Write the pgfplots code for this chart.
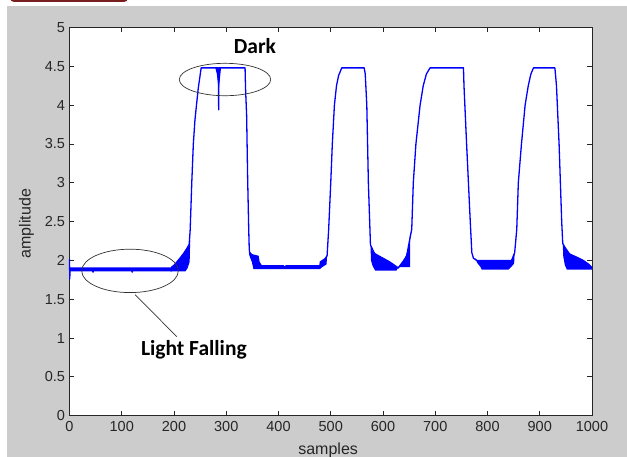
\documentclass[border=0pt]{standalone}
\usepackage{pgfplots}
\pgfplotsset{compat=1.18}
\usepackage{fontspec}
\setmainfont{Liberation Sans}
\newfontfamily\annot{Carlito}
\definecolor{figgrey}{RGB}{204,204,204}
\definecolor{sigblue}{RGB}{0,0,255}
\definecolor{tabred}{RGB}{120,30,30}

\begin{document}
\begin{tikzpicture}
\useasboundingbox (0,0) rectangle (627pt,457pt);
\fill[white] (0,0) rectangle (627pt,457pt);
\fill[figgrey] (7pt,0) rectangle (627pt,451pt);
\fill[tabred, rounded corners=4pt] (10pt,455pt) rectangle (128pt,470pt);

\begin{axis}[
    at={(69.5pt,41.3pt)}, anchor=south west,
    width=522.5pt, height=388.2pt, scale only axis,
    xmin=0, xmax=1000, ymin=0, ymax=5,
    xtick={0,100,...,1000},
    ytick={0,0.5,...,5},
    axis background/.style={fill=white},
    axis line style={line width=0.9pt, black!85},
    tick align=inside, major tick length=5pt,
    every tick/.style={black!85, line width=0.8pt},
    /pgf/number format/assume math mode=true,
    /pgf/number format/fixed,
    /pgf/number format/1000 sep={},
    tick label style={font=\fontsize{14.5}{16}\selectfont, text=black!85},
    xticklabel style={yshift=-2pt},
    yticklabel style={xshift=-1pt},
    xlabel={samples}, ylabel={amplitude},
    label style={font=\fontsize{16}{18}\selectfont, text=black!85},
    xlabel style={at={(axis description cs:0.495,0)}, anchor=base, yshift=-39.3pt},
    ylabel style={at={(axis description cs:-0.0746,0.495)}, anchor=base},
    clip=false,
]
% noisy bands drawn as filled areas
\addplot[fill=sigblue, draw=none] coordinates {
  (1,1.91)(193,1.91)(196,1.86)(122,1.86)(120,1.835)(118,1.86)
  (47,1.86)(45,1.835)(43,1.86)(1,1.86)} --cycle;
\addplot[fill=sigblue, draw=none] coordinates {
  (193,1.91)(200,1.95)(210,2.03)(218,2.10)(224,2.16)(229,2.22)(231,2.26)
  (230,1.98)(226,1.90)(222,1.86)(193,1.86)} --cycle;
\addplot[fill=sigblue, draw=none] coordinates {
  (279,4.48)(282,4.40)(284,4.28)(286,4.22)(288,4.35)(290,4.48)} --cycle;
\addplot[fill=sigblue, draw=none] coordinates {
  (344,2.12)(350,2.08)(356,2.07)(362,2.06)(364,1.98)(368,1.94)
  (368,1.887)(352,1.887)(349,1.98)(345,2.05)} --cycle;
\addplot[fill=sigblue, draw=none] coordinates {
  (368,1.94)(410,1.94)(412,1.922)(414,1.94)(479,1.94)(480,1.98)(489,2.03)(493,2.06)
  (492,1.95)(483,1.91)(479,1.887)(368,1.887)} --cycle;
\addplot[fill=sigblue, draw=none] coordinates {
  (576,2.20)(581,2.11)(594,2.06)(613,1.99)(629,1.915)
  (626,1.87)(585,1.87)(580,1.93)(577,2.00)} --cycle;
\addplot[fill=sigblue, draw=none] coordinates {
  (629,1.915)(638,1.98)(645,2.08)(650,2.20)(652,2.35)(652,1.915)} --cycle;
\addplot[fill=sigblue, draw=none] coordinates {
  (777,2.03)(780,2.00)(846,2.00)(850,2.06)(852,2.10)
  (851,1.96)(846,1.92)(840,1.88)(789,1.88)(786,1.92)(780,1.97)} --cycle;
\addplot[fill=sigblue, draw=none] coordinates {
  (944,2.22)(958,2.09)(971,2.05)(983,2.01)(994,1.96)(1000,1.92)
  (1000,1.88)(952,1.88)(948,1.94)(945,2.05)} --cycle;

% signal
\addplot[sigblue, line width=1.3pt, line join=round] coordinates {
  (0,2.02)(0.5,1.76)(1,1.885)(193,1.885)(200,1.92)(210,2.0)(220,2.1)(229,2.2)
  (231,2.4)(234,3.0)(237,3.5)(240,3.8)(243,4.0)(246.5,4.22)(252,4.48)
  (285,4.48)(285.5,3.94)(286,4.48)(336,4.48)(337,4.2)(339,3.87)(341,3.04)
  (343,2.4)(344,2.15)(345,2.08)(350,2.0)(355,1.92)(368,1.91)(479,1.91)
  (480,1.98)(489,2.02)(493,2.06)(496,2.4)(500,3.0)(503,3.5)(507,4.0)
  (511,4.25)(515,4.38)(521,4.48)(564,4.48)(566,4.4)(569,4.0)(572,3.0)
  (575,2.4)(576,2.2)(590,2.0)(629,1.9)(645,2.05)(652,2.3)(655,2.4)
  (658,3.0)(663,3.5)(671,4.0)(677,4.25)(683,4.4)(690,4.48)(754,4.48)
  (755,4.25)(760,3.5)(767,2.5)(770,2.1)(773,2.03)(779,2.0)(846,2.0)
  (849,2.05)(852,2.1)(856,2.4)(859,3.0)(865,3.5)(872,4.0)(878,4.25)
  (883,4.4)(888,4.48)(929,4.48)(932,4.25)(937,3.5)(940,2.9)(942,2.5)
  (944,2.22)(960,2.0)(1000,1.9)};

% annotations
\draw[black!80, line width=0.7pt] (axis cs:297.6,4.33) ellipse [x radius=45.7pt, y radius=16.2pt];
\draw[black!80, line width=0.7pt] (axis cs:115.8,1.865) ellipse [x radius=48.3pt, y radius=21.7pt];
\draw[black!80, line width=0.7pt] (axis cs:125.4,1.56) -- (axis cs:205.2,1.019);
\node[anchor=base, font=\annot\bfseries\fontsize{21.5}{24}\selectfont] at (axis cs:355,4.66) {Dark};
\node[anchor=base, font=\annot\bfseries\fontsize{21.5}{24}\selectfont] at (axis cs:238,0.78) {Light Falling};
\end{axis}
\end{tikzpicture}
\end{document}
